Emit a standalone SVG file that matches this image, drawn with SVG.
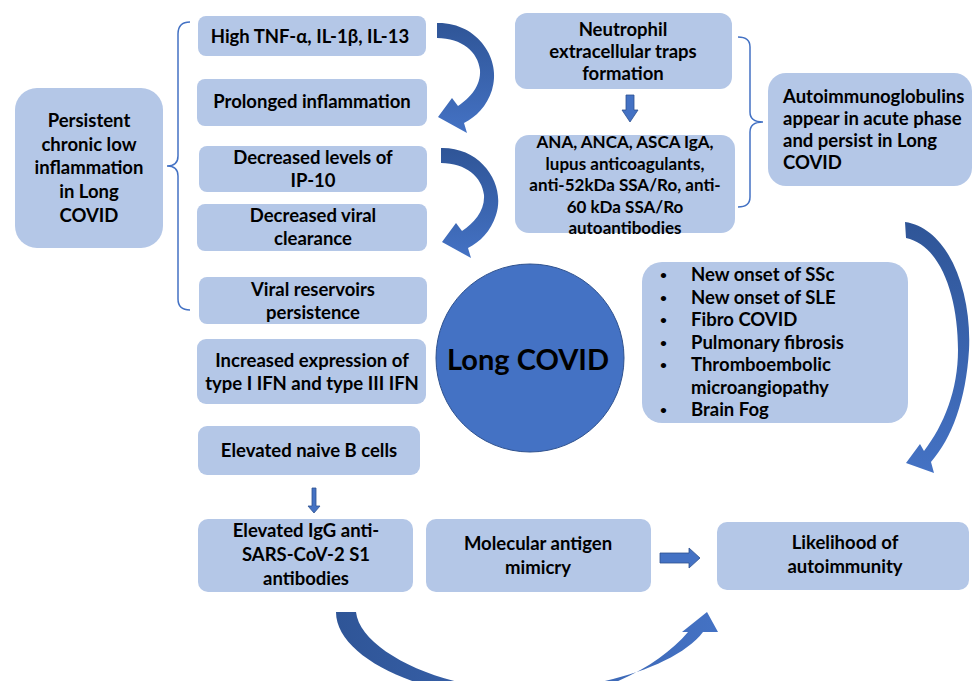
<svg xmlns="http://www.w3.org/2000/svg" width="973" height="681" viewBox="0 0 973 681">
<defs>
<style>
.box{fill:#B4C7E7;}
.t{font-family:Lato,"Open Sans","Liberation Sans",sans-serif;font-weight:700;font-size:18.5px;fill:#000;text-anchor:middle;}
.s{font-size:17px;}
.l{text-anchor:start;}
.b{font-size:12px;}
.br{fill:none;stroke:#4472C4;stroke-width:1.5;}
.ar{fill:#4472C4;stroke:#2F528F;stroke-width:0.8;}
</style>
<linearGradient id="gv" x1="0" y1="0" x2="0" y2="1">
<stop offset="0" stop-color="#2F5597"/><stop offset="1" stop-color="#4472C4"/>
</linearGradient>
<linearGradient id="gh" x1="0" y1="0" x2="1" y2="0">
<stop offset="0" stop-color="#2F5597"/><stop offset="1" stop-color="#4472C4"/>
</linearGradient>
</defs>
<rect width="973" height="681" fill="#fff"/>

<g id="connectors">
<path class="br" d="M190,22 Q178,22 178,34 L178,156 Q178,166 167,166 Q178,166 178,176 L178,299 Q178,310 190,310"/>
<path class="br" d="M738,37 Q750,37 750,47 L750,112 Q750,122 763,122 Q750,122 750,132 L750,197 Q750,207 738,207"/>
<path id="curve1" fill="url(#gv)" d="M437,23 C478,22 502,60 492,90 C487,106 476,117 464,123 L467,133 L438,117 L452,98 L458,106 C470,98 481,86 480,70 C478,52 462,38 437,38 Z"/>
<path id="curve2" fill="url(#gv)" transform="translate(4,125)" d="M437,23 C478,22 502,60 492,90 C487,106 476,117 464,123 L467,133 L438,117 L452,98 L458,106 C470,98 481,86 480,70 C478,52 462,38 437,38 Z"/>
<path id="curve3" fill="url(#gv)" d="M905,222 C948,228 972,290 969,350 C966,400 952,438 931,462 L934,473 L906,463 L920,444 L924,451 C944,425 958,390 958,350 C958,295 940,245 906,238 Z"/>
<path id="curve4" fill="url(#gh)" d="M336,612 C336,660 430,700 525,700 C600,700 660,665 688,632 L682,632 L707,612 L718,632 L703,632 C678,665 600,690 525,690 C440,690 360,650 356,612 Z"/>
<path class="ar" d="M626,95 L634,95 L634,110 L638,110 L630,122 L622,110 L626,110 Z"/>
<path class="ar" d="M312,488 L316,488 L316,506 L320,506 L314,513 L308,506 L312,506 Z"/>
<path class="ar" d="M660,553 L689,553 L689,548 L700,558 L689,568 L689,563 L660,563 Z"/>
</g>

<g id="n-persistent"><rect class="box" x="15" y="88" width="148" height="160" rx="22"/>
<text class="t"><tspan x="89" y="127">Persistent</tspan><tspan x="89" y="151">chronic low</tspan><tspan x="89" y="174">inflammation</tspan><tspan x="89" y="198">in Long</tspan><tspan x="89" y="222">COVID</tspan></text></g>

<g id="n-tnf"><rect class="box" x="198" y="16" width="228" height="40" rx="8"/>
<text class="t" x="310" y="43">High TNF-α, IL-1β, IL-13</text></g>

<g id="n-prolonged"><rect class="box" x="197" y="79" width="230" height="47" rx="8"/>
<text class="t" x="312" y="108">Prolonged inflammation</text></g>

<g id="n-ip10"><rect class="box" x="199" y="146" width="228" height="46" rx="8"/>
<text class="t"><tspan x="313" y="164">Decreased levels of</tspan><tspan x="313" y="187">IP-10</tspan></text></g>

<g id="n-clearance"><rect class="box" x="197" y="204" width="230" height="47" rx="8"/>
<text class="t"><tspan x="313" y="222">Decreased viral</tspan><tspan x="313" y="245">clearance</tspan></text></g>

<g id="n-reservoirs"><rect class="box" x="199" y="277" width="228" height="47" rx="8"/>
<text class="t"><tspan x="313" y="296">Viral reservoirs</tspan><tspan x="313" y="319">persistence</tspan></text></g>

<g id="n-ifn"><rect class="box" x="197" y="339" width="229" height="65" rx="9"/>
<text class="t"><tspan x="312" y="367">Increased expression of</tspan><tspan x="312" y="390">type I IFN and type III IFN</tspan></text></g>

<g id="n-naive"><rect class="box" x="198" y="426" width="222" height="49" rx="9"/>
<text class="t" x="309" y="457">Elevated naive B cells</text></g>

<g id="n-igg"><rect class="box" x="198" y="519" width="215" height="73" rx="10"/>
<text class="t"><tspan x="306" y="537">Elevated IgG anti-</tspan><tspan x="306" y="561">SARS-CoV-2 S1</tspan><tspan x="306" y="585">antibodies</tspan></text></g>

<g id="n-mimicry"><rect class="box" x="426" y="519" width="225" height="73" rx="10"/>
<text class="t"><tspan x="538" y="550">Molecular antigen</tspan><tspan x="538" y="574">mimicry</tspan></text></g>

<g id="n-likelihood"><rect class="box" x="717" y="522" width="252" height="68" rx="10"/>
<text class="t"><tspan x="845" y="549">Likelihood of</tspan><tspan x="845" y="573">autoimmunity</tspan></text></g>

<g id="n-net"><rect class="box" x="515" y="13" width="217" height="76" rx="12"/>
<text class="t"><tspan x="623" y="36">Neutrophil</tspan><tspan x="623" y="58">extracellular traps</tspan><tspan x="623" y="80">formation</tspan></text></g>

<g id="n-ana"><rect class="box" x="515" y="135" width="220" height="98" rx="14"/>
<text class="t s"><tspan x="625" y="148">ANA, ANCA, ASCA IgA,</tspan><tspan x="625" y="169.5">lupus anticoagulants,</tspan><tspan x="625" y="191">anti-52kDa SSA/Ro, anti-</tspan><tspan x="625" y="212.5">60 kDa SSA/Ro</tspan><tspan x="625" y="234">autoantibodies</tspan></text></g>

<g id="n-autoig"><rect class="box" x="768" y="73" width="204" height="113" rx="18"/>
<text class="t l"><tspan x="783" y="103">Autoimmunoglobulins</tspan><tspan x="783" y="125">appear in acute phase</tspan><tspan x="783" y="147">and persist in Long</tspan><tspan x="783" y="169">COVID</tspan></text></g>

<g id="n-conditions"><rect class="box" x="642" y="262" width="266" height="161" rx="20"/>
<text class="t l b"><tspan x="660" y="279">•</tspan><tspan x="660" y="301.5">•</tspan><tspan x="660" y="324">•</tspan><tspan x="660" y="346.5">•</tspan><tspan x="660" y="369">•</tspan><tspan x="660" y="414">•</tspan></text>
<text class="t l"><tspan x="691" y="281">New onset of SSc</tspan><tspan x="691" y="303.5">New onset of SLE</tspan><tspan x="691" y="326">Fibro COVID</tspan><tspan x="691" y="348.5">Pulmonary fibrosis</tspan><tspan x="691" y="371">Thromboembolic</tspan><tspan x="691" y="393.5">microangiopathy</tspan><tspan x="691" y="416">Brain Fog</tspan></text></g>

<g id="n-longcovid"><circle cx="530" cy="358" r="94" fill="#4472C4" stroke="#2F528F" stroke-width="1"/>
<text class="t" x="528" y="370" style="font-size:29px">Long COVID</text></g>
</svg>
